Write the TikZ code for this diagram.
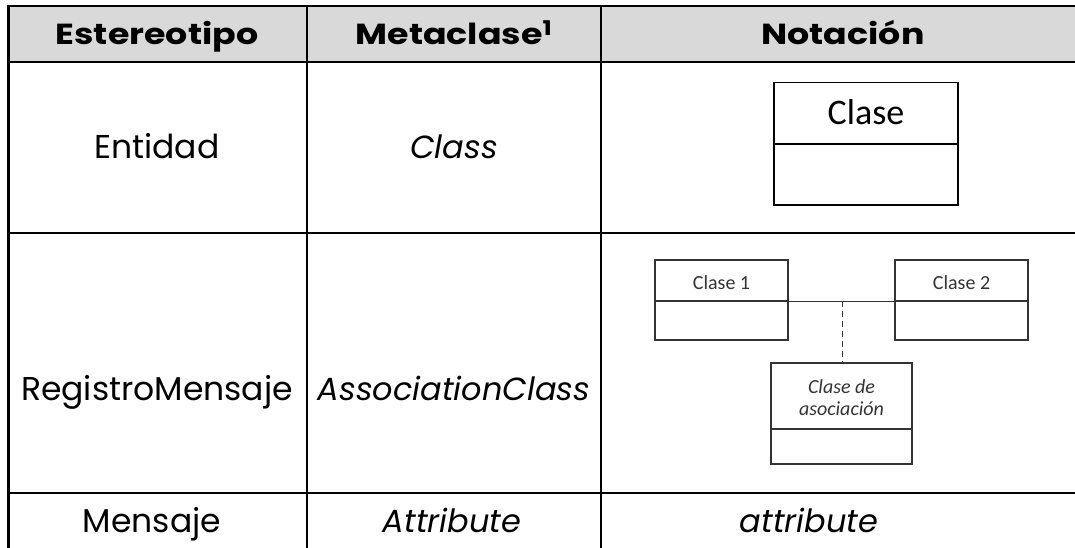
\documentclass[tikz,border=0pt]{standalone}
\usepackage{fontspec}
\setmainfont{Poppins}
\newfontfamily\headfont[FakeStretch=1.2]{Poppins}
\newfontfamily\umlfont{Carlito}
\definecolor{headgray}{HTML}{D9D9D9}
\definecolor{umltext}{HTML}{333333}
\begin{document}
\begin{tikzpicture}[x=1pt,y=-1pt,
  grid/.style={line width=2.2pt, black},
  head/.style={anchor=base, font=\headfont\fontsize{29}{34}\selectfont\bfseries, inner sep=0pt},
  body/.style={anchor=base, font=\fontsize{33}{38}\selectfont, inner sep=0pt},
  bodyit/.style={body, font=\fontsize{32}{38}\selectfont\itshape},
  umllabel/.style={anchor=base, inner sep=0pt, text=umltext}
]
\useasboundingbox (0,0) rectangle (1075,548);
\clip (0,0) rectangle (1075,548);
\fill[headgray] (8.5,6) rectangle (1090,62);
% grid
\draw[grid] (8.5,548) -- (8.5,6) -- (1090,6);
\draw[grid] (8.5,62) -- (1090,62);
\draw[grid] (8.5,233) -- (1090,233);
\draw[grid] (8.5,493) -- (1090,493);
\draw[grid] (307,6) -- (307,548);
\draw[grid] (601,6) -- (601,548);
% header
\node[head] (h1) at (157,45) {Estereotipo};
\node[head] (h2) at (454,45) {Metaclase\textsuperscript{1}};
\node[head] (h3) at (843,45) {Notación};
% row 1
\node[body] (r1a) at (157,159) {Entidad};
\node[bodyit] (r1b) at (454,159) {Class};
\draw[line width=1.4pt] (774,82.5) rectangle (958,205);
\draw[line width=1.4pt] (774,144) -- (958,144);
\node[umllabel, font=\umlfont\fontsize{36}{40}\selectfont, text=black] (cl) at (866,125) {Clase};
% row 2
\node[body] (r2a) at (157,400) {RegistroMensaje};
\node[bodyit] (r2b) at (454,400) {AssociationClass};
\draw[line width=1.2pt, umltext] (655,260) rectangle (788,340);
\draw[line width=1.2pt, umltext] (655,301) -- (788,301);
\draw[line width=1.2pt, umltext] (895,260) rectangle (1028,340);
\draw[line width=1.2pt, umltext] (895,301) -- (1028,301);
\coordinate (c1r) at (788,301);
\coordinate (c2l) at (895,301);
\coordinate (mid) at (842.7,301);
\draw[line width=0.8pt, umltext] (c1r) -- (c2l);
\node[umllabel, font=\umlfont\fontsize{20}{24}\selectfont] (c1) at (721.5,289) {Clase 1};
\node[umllabel, font=\umlfont\fontsize{20}{24}\selectfont] (c2) at (961.5,289) {Clase 2};
\draw[line width=1.2pt, umltext] (771,363) rectangle (912,464);
\draw[line width=1.2pt, umltext] (771,429) -- (912,429);
\coordinate (acTop) at (842.7,363);
\draw[line width=1pt, umltext, dash pattern=on 6pt off 4pt] (mid) -- (acTop);
\node[umllabel, font=\umlfont\itshape\fontsize{20}{24}\selectfont] (ac1) at (841.5,393) {Clase de};
\node[umllabel, font=\umlfont\itshape\fontsize{20}{24}\selectfont] (ac2) at (841.5,415) {asociación};
% row 3
\node[body] (r3a) at (152,532) {Mensaje};
\node[bodyit] (r3b) at (452,532) {Attribute};
\node[bodyit] (r3c) at (809,532) {attribute};
\end{tikzpicture}
\end{document}
